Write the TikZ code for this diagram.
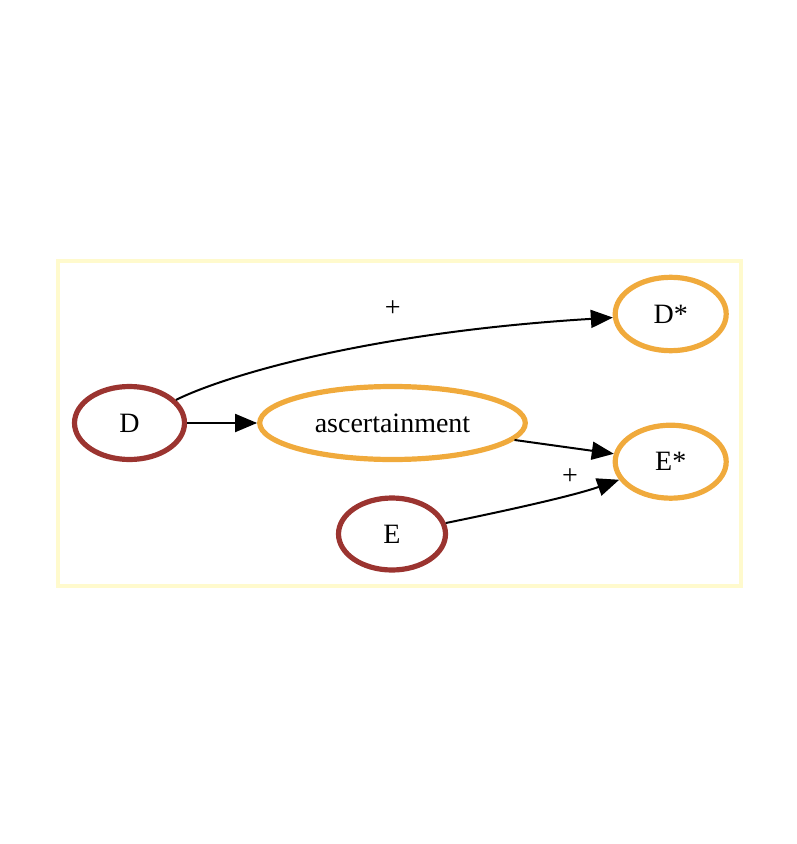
\documentclass[tikz,border=0pt]{standalone}
\usepackage{fontspec}
\setmainfont{Liberation Serif}
\usetikzlibrary{shapes.geometric,arrows.meta}
\definecolor{nodebrown}{RGB}{155,52,48}
\definecolor{nodeorange}{RGB}{240,170,60}
\definecolor{clusterc}{RGB}{255,250,205}
\tikzset{
  base/.style={ellipse, draw, line width=2.6pt, inner sep=0pt, font=\fontsize{14pt}{16pt}\selectfont},
  srcnode/.style={base, draw=nodebrown},
  tgtnode/.style={base, draw=nodeorange},
  edge/.style={draw=black, line width=1pt, -{Triangle[length=11pt,width=9pt]}},
  elabel/.style={font=\fontsize{14pt}{16pt}\selectfont, inner sep=0pt}
}
\begin{document}
\begin{tikzpicture}[x=0.5pt,y=-0.5pt]
\useasboundingbox (0,0) rectangle (796,844);
\draw[clusterc, line width=2pt] (58,261) rectangle (741,586);
\node[srcnode, minimum width=55pt, minimum height=36.5pt] (D) at (129.5,423) {D};
\node[tgtnode, minimum width=132.8pt, minimum height=36.5pt] (asc) at (392.5,423) {ascertainment};
\node[tgtnode, minimum width=55.5pt, minimum height=36.7pt] (Ds) at (670.7,314) {D*};
\node[tgtnode, minimum width=55.5pt, minimum height=36.5pt] (Es) at (670.7,461.7) {E*};
\node[srcnode, minimum width=53.5pt, minimum height=36pt] (E) at (392,534) {E};
\draw[edge] (D) -- (asc);
\draw[edge] (D) .. controls (220,378) and (360,333) .. (Ds);
\draw[edge] (asc) -- (Es);
\draw[edge] (E) .. controls (490,514) and (570,497) .. (Es);
\node[elabel] (l1) at (392.7,309) {+};
\node[elabel] (l2) at (570,476.7) {+};
\end{tikzpicture}
\end{document}
